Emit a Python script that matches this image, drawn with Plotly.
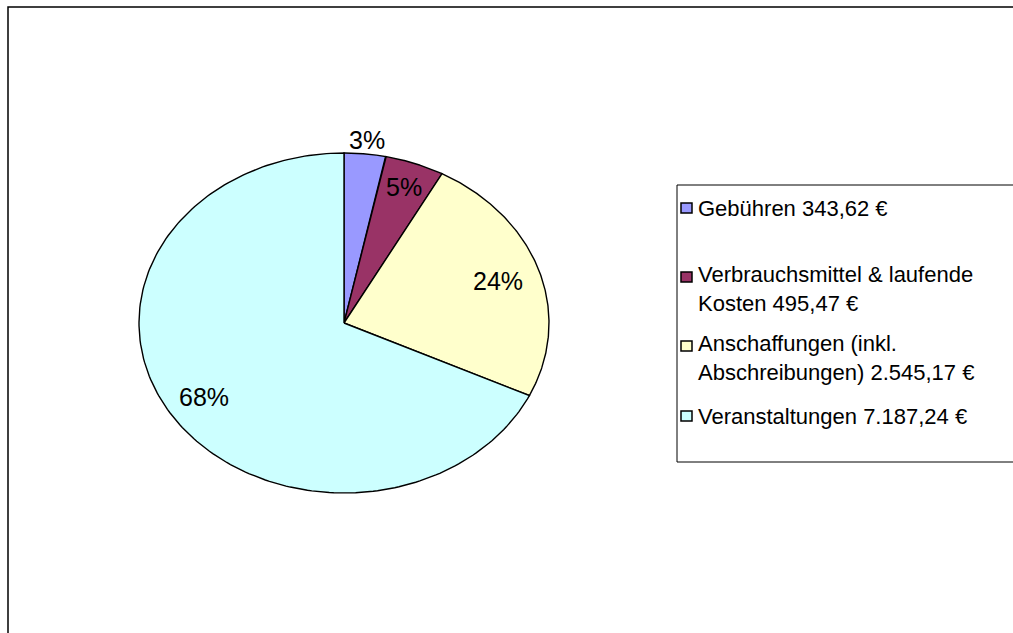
import numpy as np
import plotly.graph_objects as go

# ---------------- data ----------------
categories = [
    "Gebühren",
    "Verbrauchsmittel & laufende\nKosten",
    "Anschaffungen (inkl.\nAbschreibungen)",
    "Veranstaltungen",
]
amounts = [343.62, 495.47, 2545.17, 7187.24]

# ---------------- style ----------------
colors = ["#9999FF", "#993366", "#FFFFCC", "#CCFFFF"]
label_radius = [1.08, 0.85, 0.79, 0.81]   # relative position of % labels
W, H = 1013, 633
CX, CY, RX, RY = 344, 323, 205, 170        # pie ellipse geometry in pixels
FONT = "Arial, Liberation Sans, sans-serif"


def euro(v):
    s = f"{v:,.2f}".replace(",", "X").replace(".", ",").replace("X", ".")
    return s + " €"


def px_x(p):
    return p / W


def px_y(p):
    return 1 - p / H


total = sum(amounts)
fracs = [a / total for a in amounts]
starts = np.cumsum([0] + fracs[:-1])

fig = go.Figure()
for cat, a, f, s, col in zip(categories, amounts, fracs, starts, colors):
    th = np.linspace(s, s + f, 200) * 2 * np.pi
    xs = np.concatenate([[0], np.sin(th), [0]])
    ys = np.concatenate([[0], np.cos(th), [0]])
    fig.add_trace(go.Scatter(
        x=xs, y=ys, mode="lines", fill="toself", fillcolor=col,
        line=dict(color="black", width=1.4),
        name=cat.replace("\n", " "), showlegend=False,
        hoverinfo="text", text=f"{cat.replace(chr(10), ' ')}: {euro(a)}",
    ))

annotations = []
# percentage labels
for f, s, r in zip(fracs, starts, label_radius):
    mid = (s + f / 2) * 2 * np.pi
    annotations.append(dict(
        x=r * np.sin(mid), y=r * np.cos(mid), xref="x", yref="y",
        text=f"{round(100 * f)}%", showarrow=False,
        font=dict(family=FONT, size=25, color="black"),
        xanchor="center", yanchor="middle",
    ))

# custom legend (symbol squares + text)
shapes = []
entry_y = [208, 277, 346, 416]   # first-line centers (px)
line_gap = 23
for cat, a, col, ey in zip(categories, amounts, colors, entry_y):
    lines = (cat + " " + euro(a)).split("\n")
    shapes.append(dict(
        type="rect", xref="paper", yref="paper",
        x0=px_x(681), x1=px_x(692), y0=px_y(ey - 5), y1=px_y(ey + 5),
        fillcolor=col, line=dict(color="black", width=1.5),
    ))
    block_mid = ey + (len(lines) - 1) * line_gap / 2
    annotations.append(dict(
        x=px_x(697), y=px_y(block_mid), xref="paper", yref="paper",
        text="<br>".join(lines), showarrow=False,
        xanchor="left", yanchor="middle", align="left", borderpad=0,
        font=dict(family=FONT, size=22, color="black"),
    ))

# legend box
shapes.append(dict(
    type="rect", xref="paper", yref="paper",
    x0=px_x(677), x1=px_x(W + 20), y0=px_y(185), y1=px_y(462),
    line=dict(color="black", width=1), fillcolor="rgba(0,0,0,0)", layer="below",
))
# outer chart frame
shapes.append(dict(
    type="rect", xref="paper", yref="paper",
    x0=px_x(8), x1=px_x(W + 20), y0=px_y(7), y1=px_y(H + 20),
    line=dict(color="black", width=1.5), fillcolor="rgba(0,0,0,0)",
))

fig.update_layout(
    width=W, height=H,
    margin=dict(l=0, r=0, t=0, b=0),
    paper_bgcolor="white", plot_bgcolor="white",
    xaxis=dict(range=[-CX / RX, (W - CX) / RX], visible=False, fixedrange=True),
    yaxis=dict(range=[(CY - H) / RY, CY / RY], visible=False, fixedrange=True),
    shapes=shapes, annotations=annotations,
    showlegend=False,
)

fig.write_html("out.html")
